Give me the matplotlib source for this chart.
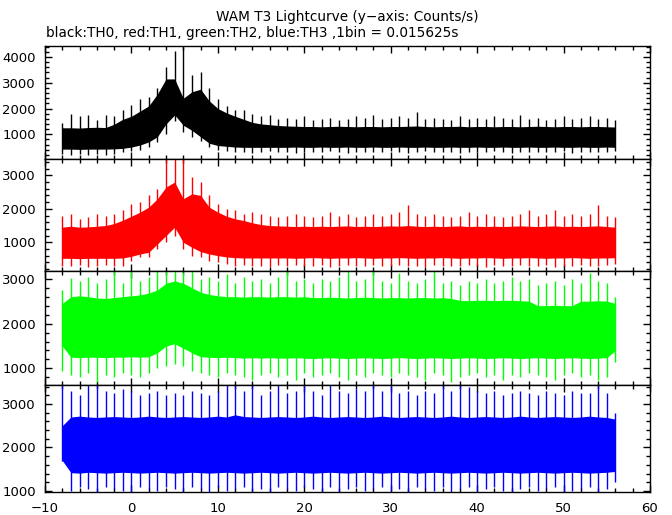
import numpy as np
import matplotlib.pyplot as plt
from matplotlib.ticker import MultipleLocator

# hi/lo = upper/lower edge of the dense band, pk/tr = highest/lowest spike in that second
t = np.arange(-8, 57)

th0_hi = [1250, 1250, 1240, 1260, 1270, 1260, 1390, 1580, 1700, 1900, 2100, 2560, 3150,
          3150, 2400, 2650, 2750, 2300, 2000, 1830, 1700, 1580, 1460, 1400, 1370, 1340,
          1320, 1310, 1300, 1300, 1290, 1300, 1310, 1300, 1290, 1300, 1300, 1290, 1300,
          1300, 1310, 1320, 1300, 1290, 1300, 1300, 1310, 1290, 1300, 1300, 1290, 1300,
          1300, 1290, 1300, 1310, 1300, 1290, 1300, 1300, 1290, 1300, 1300, 1290, 1280]
th0_lo = [420, 420, 410, 420, 420, 420, 430, 450, 500, 580, 700, 900, 1400,
          1750, 1350, 1150, 900, 650, 560, 530, 500, 490, 490, 490, 490, 490,
          490, 500, 490, 490, 500, 490, 490, 500, 490, 490, 500, 490, 490,
          500, 490, 490, 500, 490, 490, 500, 490, 490, 500, 490, 490, 500,
          490, 490, 500, 490, 490, 500, 490, 490, 500, 490, 490, 500, 490]
th0_pk = [1450, 1780, 1700, 1750, 1550, 1760, 1700, 1950, 2150, 2350, 2450, 2800, 3600,
          4250, 4380, 3300, 3400, 2800, 2350, 2100, 1950, 1950, 1800, 1700, 1750, 1600,
          1650, 1600, 1700, 1550, 1600, 1650, 1550, 1600, 1700, 1650, 1750, 1600, 1650,
          1700, 1650, 1870, 1600, 1650, 1600, 1550, 1700, 1600, 1650, 1600, 1700, 1650,
          1600, 1750, 1600, 1650, 1550, 1600, 1700, 1600, 1650, 1700, 1600, 1650, 1550]
th0_tr = [250, 200, 220, 180, 250, 200, 220, 300, 350, 400, 500, 700, 1000,
          1500, 1100, 900, 750, 500, 400, 350, 300, 320, 280, 300, 330, 290,
          310, 280, 320, 300, 290, 330, 300, 280, 320, 310, 290, 300, 330,
          300, 280, 310, 330, 290, 300, 320, 280, 310, 300, 290, 330, 300,
          280, 310, 300, 320, 290, 300, 330, 280, 310, 300, 290, 320, 350]

th1_hi = [1450, 1480, 1450, 1460, 1480, 1500, 1560, 1660, 1780, 1900, 2050, 2300, 2650,
          2800, 2300, 2450, 2400, 2050, 1900, 1780, 1700, 1650, 1580, 1530, 1500, 1490,
          1480, 1470, 1480, 1470, 1480, 1470, 1480, 1490, 1470, 1480, 1470, 1480, 1490,
          1480, 1500, 1480, 1470, 1480, 1470, 1480, 1490, 1470, 1480, 1470, 1480, 1470,
          1480, 1490, 1480, 1470, 1480, 1490, 1470, 1480, 1470, 1480, 1490, 1470, 1450]
th1_lo = [520, 520, 510, 520, 520, 520, 520, 530, 580, 650, 700, 950, 1200,
          1450, 1000, 850, 720, 650, 600, 560, 540, 530, 530, 530, 530, 530,
          530, 520, 530, 540, 530, 520, 530, 530, 540, 530, 520, 530, 530,
          540, 530, 520, 530, 530, 540, 530, 520, 530, 530, 540, 530, 520,
          530, 530, 540, 530, 520, 530, 530, 540, 530, 520, 530, 530, 540]
th1_pk = [1800, 1850, 1700, 1750, 1850, 1800, 1850, 1950, 2150, 2200, 2400, 2600, 3480,
          3480, 3480, 2950, 2800, 2400, 2150, 2000, 1950, 1850, 1900, 1850, 1800, 1750,
          1800, 1850, 1800, 1750, 1800, 1900, 1800, 1850, 1750, 1800, 1850, 1800, 1850,
          1900, 2110, 1850, 1800, 1850, 1800, 1750, 1800, 1900, 1800, 1850, 1800, 1750,
          1800, 1850, 1960, 1800, 1850, 1950, 1800, 1850, 1800, 1850, 2110, 1800, 1750]
th1_tr = [300, 280, 320, 260, 300, 330, 280, 300, 450, 550, 550, 800, 1000,
          1200, 800, 600, 550, 450, 400, 350, 300, 320, 280, 300, 260, 310,
          290, 320, 280, 300, 330, 270, 300, 310, 280, 300, 320, 290, 300,
          310, 280, 300, 250, 320, 290, 300, 280, 310, 300, 270, 320, 290,
          300, 310, 280, 300, 320, 260, 300, 290, 310, 280, 300, 320, 350]

th2_hi = [2450, 2600, 2620, 2600, 2570, 2560, 2580, 2600, 2620, 2640, 2680, 2750, 2900,
          2950, 2900, 2800, 2700, 2650, 2620, 2600, 2600, 2590, 2600, 2600, 2590, 2600,
          2600, 2590, 2600, 2580, 2580, 2590, 2580, 2570, 2580, 2590, 2580, 2570, 2580,
          2580, 2570, 2580, 2580, 2570, 2580, 2560, 2520, 2510, 2520, 2520, 2510, 2520,
          2520, 2510, 2500, 2400, 2400, 2410, 2400, 2400, 2500, 2500, 2510, 2500, 2450]
th2_lo = [1500, 1250, 1240, 1250, 1250, 1240, 1250, 1250, 1260, 1250, 1260, 1350, 1500,
          1550, 1450, 1350, 1260, 1250, 1240, 1250, 1240, 1230, 1240, 1230, 1240, 1230,
          1230, 1240, 1230, 1220, 1230, 1240, 1230, 1220, 1230, 1240, 1230, 1220, 1230,
          1240, 1230, 1220, 1230, 1240, 1230, 1220, 1230, 1240, 1230, 1220, 1230, 1240,
          1230, 1220, 1230, 1240, 1230, 1220, 1230, 1240, 1230, 1220, 1230, 1240, 1400]
th2_pk = [2750, 3020, 2950, 3050, 2900, 3000, 3180, 2900, 3180, 2950, 3050, 3180, 3180,
          3180, 3150, 3180, 3000, 3050, 2950, 3100, 2900, 3050, 2950, 3000, 2900, 3050,
          3180, 2950, 3000, 2900, 3000, 2950, 3050, 3180, 2950, 3000, 3180, 2950, 2900,
          3130, 2950, 2900, 3000, 3180, 2900, 2950, 2850, 2950, 2900, 3000, 2900, 2950,
          3050, 2950, 3000, 2850, 2900, 2950, 2850, 3000, 2900, 3130, 2950, 2900, 2600]
th2_tr = [950, 850, 800, 900, 700, 850, 800, 900, 850, 800, 900, 1000, 1050,
          1100, 1050, 950, 900, 850, 800, 900, 850, 800, 750, 850, 900, 800,
          850, 750, 900, 800, 850, 900, 800, 750, 850, 800, 900, 850, 800,
          900, 850, 800, 750, 900, 850, 700, 800, 850, 900, 800, 850, 750,
          850, 800, 900, 850, 800, 750, 850, 900, 800, 850, 750, 800, 1150]

th3_hi = [2500, 2700, 2720, 2700, 2690, 2700, 2710, 2700, 2690, 2700, 2720, 2700, 2690,
          2700, 2710, 2700, 2690, 2700, 2720, 2700, 2750, 2710, 2700, 2690, 2700, 2710,
          2700, 2690, 2700, 2720, 2700, 2690, 2700, 2710, 2700, 2690, 2700, 2720, 2700,
          2690, 2700, 2710, 2700, 2690, 2700, 2720, 2700, 2690, 2700, 2710, 2700, 2690,
          2700, 2720, 2700, 2690, 2700, 2710, 2700, 2690, 2700, 2720, 2700, 2690, 2650]
th3_lo = [1700, 1420, 1410, 1430, 1420, 1410, 1420, 1430, 1420, 1410, 1420, 1430, 1420,
          1410, 1420, 1430, 1420, 1410, 1420, 1430, 1420, 1410, 1420, 1430, 1420, 1410,
          1420, 1430, 1420, 1410, 1420, 1430, 1420, 1410, 1420, 1430, 1420, 1410, 1420,
          1430, 1420, 1410, 1420, 1430, 1420, 1410, 1420, 1430, 1420, 1410, 1420, 1430,
          1420, 1410, 1420, 1430, 1420, 1410, 1420, 1430, 1420, 1410, 1420, 1430, 1450]
th3_pk = [3435, 3300, 3200, 3435, 3435, 3300, 3250, 3350, 3300, 3200, 3250, 3300, 3200,
          3250, 3200, 3300, 3250, 3200, 3300, 3435, 3435, 3300, 3435, 3200, 3300, 3435,
          3250, 3300, 3435, 3300, 3200, 3435, 3300, 3250, 3350, 3300, 3435, 3300, 3435,
          3250, 3300, 3200, 3300, 3250, 3435, 3300, 3435, 3400, 3300, 3250, 3300, 3200,
          3250, 3300, 3250, 3200, 3300, 3250, 3200, 3300, 3250, 3250, 3435, 3250, 2800]
th3_tr = [1700, 1000, 1100, 1050, 970, 1100, 1050, 1000, 970, 1100, 1050, 1000, 1100,
          1050, 1000, 1100, 1050, 970, 1100, 1000, 1050, 1100, 1000, 1050, 970, 1100,
          1050, 1000, 1100, 1050, 1000, 1100, 970, 1050, 1100, 1000, 1050, 1100, 1000,
          1050, 970, 1100, 1050, 1000, 1100, 970, 1050, 1100, 1000, 1050, 1100, 1000,
          970, 1050, 1100, 1000, 1050, 1100, 970, 1000, 1050, 1100, 970, 1050, 1200]

channels = [
    (th0_hi, th0_lo, th0_pk, th0_tr, '#000000', (25, 4430)),
    (th1_hi, th1_lo, th1_pk, th1_tr, '#ff0000', (150, 3480)),
    (th2_hi, th2_lo, th2_pk, th2_tr, '#00ff00', (630, 3180)),
    (th3_hi, th3_lo, th3_pk, th3_tr, '#0000ff', (970, 3435)),
]

plt.rcParams['font.family'] = 'DejaVu Sans'
fig = plt.figure(figsize=(6.72, 5.15), dpi=100)

W, H = 672.0, 515.0
edges = [46, 159.3, 270.7, 385, 492.3]
left, right = 45 / W, 650 / W

axes = []
for i in range(4):
    bottom = 1 - edges[i + 1] / H
    height = (edges[i + 1] - edges[i]) / H
    axes.append(fig.add_axes([left, bottom, right - left, height]))

for i, (ax, (hi, lo, pk, tr, col, ylim)) in enumerate(zip(axes, channels)):
    ax.fill_between(t, lo, hi, color=col, lw=0)
    ax.vlines(t, tr, pk, color=col, lw=1.0)
    ax.set_xlim(-10, 60)
    ax.set_ylim(*ylim)
    ax.xaxis.set_major_locator(MultipleLocator(10))
    ax.xaxis.set_minor_locator(MultipleLocator(2))
    ax.yaxis.set_major_locator(MultipleLocator(1000))
    ax.yaxis.set_minor_locator(MultipleLocator(200))
    ax.tick_params(which='both', direction='in', top=True, right=True, width=1.0,
                   labelsize=9.5)
    ax.tick_params(which='major', length=5)
    ax.tick_params(which='minor', length=3)
    ax.tick_params(axis='y', pad=6.5)
    ax.tick_params(axis='x', pad=7, labelbottom=(i == 3))
    for sp in ax.spines.values():
        sp.set_linewidth(1.0)

fig.text(347 / W, 1 - 20.5 / H, "WAM T3 Lightcurve (y\u2212axis: Counts/s)",
         ha='center', va='baseline', fontsize=9.8)
fig.text(46.5 / W, 1 - 36.7 / H,
         "black:TH0, red:TH1, green:TH2, blue:TH3 ,1bin = 0.015625s",
         ha='left', va='baseline', fontsize=9.8)

fig.savefig("out.png", dpi=100)
